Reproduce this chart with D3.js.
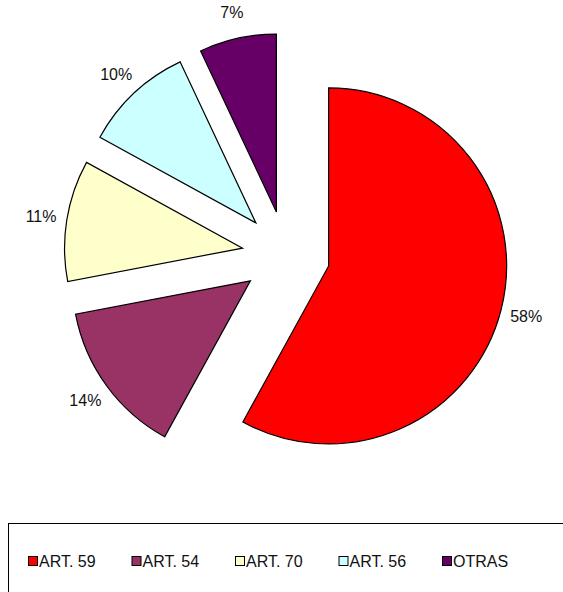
<!DOCTYPE html>
<html>
<head>
    <meta charset="utf-8">
    <script src="https://cdn.jsdelivr.net/npm/d3@7"></script>
    <style>
        body { margin: 0; background: white; }
        text { font-family: "Liberation Sans", Arial, sans-serif; }
    </style>
</head>
<body>
    <svg width="563" height="592" id="mainsvg"></svg>
    <script>
        // data
        const categories = ['ART. 59', 'ART. 54', 'ART. 70', 'ART. 56', 'OTRAS'];
        const values = [58, 14, 11, 10, 7];
        const labels = ['58%', '14%', '11%', '10%', '7%'];
        const colors = ['#ff0000', '#993366', '#ffffcc', '#ccffff', '#660066'];

        const svg = d3.select('svg');
        const cx = 286, cy = 255;
        const radius = 178;
        const explode = 44;
        const labelR = 204;

        const data = categories.map((c, i) => ({ name: c, value: values[i], label: labels[i] }));
        const color = d3.scaleOrdinal().domain(categories).range(colors);

        const pie = d3.pie().sort(null).value(d => d.value);
        const arcData = pie(data);
        const arcGenerator = d3.arc().innerRadius(0).outerRadius(radius);

        const slices = svg.selectAll('.slice').data(arcData).join('g')
            .attr('class', 'slice')
            .attr('transform', d => {
                const mid = (d.startAngle + d.endAngle) / 2;
                return `translate(${cx + explode * Math.sin(mid)}, ${cy - explode * Math.cos(mid)})`;
            });

        slices.append('path')
            .attr('d', arcGenerator)
            .attr('fill', d => color(d.data.name))
            .attr('stroke', 'black')
            .attr('stroke-width', 1.2)
            .attr('stroke-linejoin', 'miter');

        slices.append('text')
            .attr('x', d => labelR * Math.sin((d.startAngle + d.endAngle) / 2))
            .attr('y', d => -labelR * Math.cos((d.startAngle + d.endAngle) / 2))
            .attr('text-anchor', 'middle')
            .attr('dominant-baseline', 'central')
            .attr('font-size', '16px')
            .attr('fill', '#111')
            .text(d => d.data.label);

        // legend box
        svg.append('rect')
            .attr('x', 8.5).attr('y', 523.5)
            .attr('width', 620).attr('height', 100)
            .attr('fill', 'none')
            .attr('stroke', 'black')
            .attr('stroke-width', 1);

        const legendX = d3.scaleBand().domain(categories).range([28, 545.5]);

        const legend = svg.selectAll('.legend').data(categories).join('g')
            .attr('class', 'legend')
            .attr('transform', d => `translate(${legendX(d)}, 556)`);

        legend.append('rect')
            .attr('x', 0.5).attr('y', 0.5)
            .attr('width', 9).attr('height', 9)
            .attr('fill', d => color(d))
            .attr('stroke', 'black')
            .attr('stroke-width', 1);

        legend.append('text')
            .attr('x', 11)
            .attr('y', 11)
            .attr('font-size', '16px')
            .attr('fill', '#111')
            .text(d => d);
    </script>
</body>
</html>
